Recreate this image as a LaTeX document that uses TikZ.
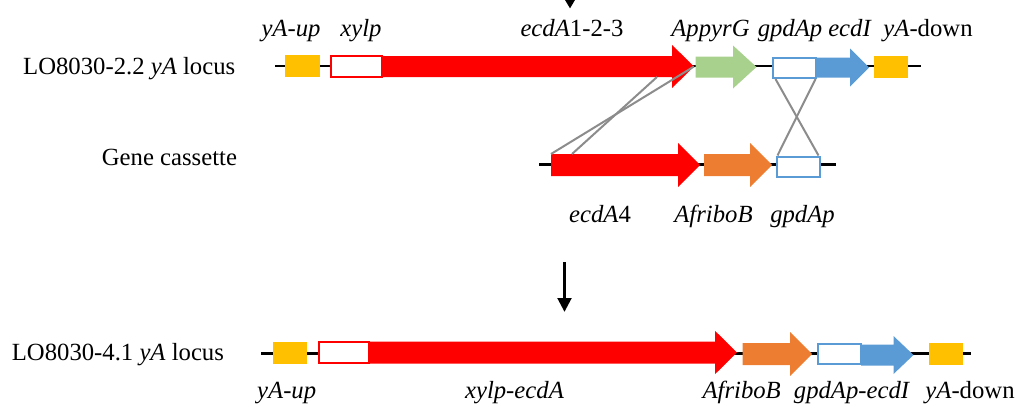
\documentclass[tikz,border=0pt]{standalone}
\usepackage{fontspec}
\setmainfont{Liberation Serif}
\usetikzlibrary{arrows.meta,calc}
\definecolor{gred}{HTML}{FF0000}
\definecolor{gyel}{HTML}{FFC000}
\definecolor{ggreen}{HTML}{A9D18E}
\definecolor{gorange}{HTML}{ED7D31}
\definecolor{gblue}{HTML}{5B9BD5}
\definecolor{ggray}{HTML}{8C8C8C}
% #1 name, #2 x start, #3 x head start, #4 x tip, #5 y centre, #6 body half, #7 head half, #8 colour
\newcommand\genearrow[8]{%
  \fill[#8] (#2,#5-#6) -- (#3,#5-#6) -- (#3,#5-#7) -- (#4,#5) -- (#3,#5+#7) -- (#3,#5+#6) -- (#2,#5+#6) -- cycle;
  \coordinate (#1) at (#4,#5);
}
\begin{document}
\begin{tikzpicture}[x=1pt,y=-1pt,
  every node/.style={font=\fontsize{24.7}{28}\selectfont},
  lab/.style={anchor=base,inner sep=0pt},
  labw/.style={anchor=base west,inner sep=0pt},
  backbone/.style={line width=2.5pt,black},
  ybox/.style={fill=gyel,draw=none,inner sep=0pt,minimum height=22pt,minimum width=34pt},
  rbox/.style={fill=white,draw=gred,line width=2pt,inner sep=0pt,minimum height=21pt,minimum width=50pt},
  bbox/.style={fill=white,draw=gblue,line width=2pt,inner sep=0pt,minimum height=20pt,minimum width=43pt},
  xline/.style={ggray,line width=2pt},
  flow/.style={line width=3.4pt,-{Triangle[width=13.5pt,length=14pt]}}
]
\useasboundingbox (0,0) rectangle (1031,407);

% ---------------- row 1 ----------------
\coordinate (b1s) at (275,66);
\coordinate (b1e) at (921,66);
\draw[backbone] (b1s) -- (b1e);
\node[ybox,minimum width=35pt] (up1) at (302.5,66) {};
\node[rbox,minimum width=51pt] (xyl1) at (356,66) {};
\genearrow{r1tip}{382.5}{672}{694}{66.5}{10.5}{21.6}{gred}
\genearrow{g1tip}{695.5}{733}{756.5}{67}{10.5}{21.5}{ggreen}
\node[bbox] (gp1) at (794,68) {};
\genearrow{bl1tip}{816}{850}{869}{67.5}{10}{19}{gblue}
\node[ybox] (dn1) at (891,67) {};
\coordinate (r1bot) at (657,77);

\node[labw] (l1) at (23,74) {LO8030-2.2 \textit{yA} locus};
\node[lab] at (291,36) {\textit{yA-up}};
\node[lab] at (361,36) {\textit{xylp}};
\node[lab] at (572,36) {\textit{ecdA}1-2-3};
\node[lab] at (710.5,36) {\textit{AppyrG}};
\node[lab] at (790,36) {\textit{gpdAp}};
\node[lab] at (850,36) {\textit{ecdI}};
\node[lab] at (928,36) {\textit{yA}-down};

% ---------------- gene cassette ----------------
\coordinate (b2s) at (539,164.5);
\coordinate (b2e) at (836,164.5);
\draw[backbone] (b2s) -- (b2e);
\genearrow{r2tip}{551}{678}{700}{165}{11}{22.2}{gred}
\genearrow{o2tip}{704}{750}{772}{165}{11}{22.2}{gorange}
\node[bbox] (gp2) at (798,166.5) {};
\coordinate (cA) at (551,154);
\coordinate (cB) at (572,154);

\node[labw] (l2) at (101.7,165) {Gene cassette};
\node[lab] at (600,222) {\textit{ecdA}4};
\node[lab] at (713.5,222) {\textit{AfriboB}};
\node[lab] at (802.5,222) {\textit{gpdAp}};

% crossing lines
\draw[xline] (cA) -- (r1tip);
\draw[xline] (cB) -- (r1bot);
\draw[xline] ($(gp1.south west)+(4,0)$) -- ($(gp2.north east)+(-2,0)$);
\draw[xline] ($(gp1.south east)+(-1,0)$) -- ($(gp2.north west)+(2,0)$);

% ---------------- arrows ----------------
\begin{scope}
  \clip (0,0) rectangle (1031,407);
  \coordinate (a0s) at (570,-20);
  \coordinate (a0e) at (570,8.5);
  \draw[line width=3.4pt,-{Triangle[width=11pt,length=10pt]}] (a0s) -- (a0e);
\end{scope}
\coordinate (a1s) at (564.5,262);
\coordinate (a1e) at (564.5,312);
\draw[flow] (a1s) -- (a1e);

% ---------------- row 3 ----------------
\coordinate (b3s) at (261,353.5);
\coordinate (b3e) at (971,353.5);
\draw[backbone] (b3s) -- (b3e);
\node[ybox] (up3) at (290.3,352.5) {};
\node[rbox] (xyl3) at (344,352.5) {};
\genearrow{r3tip}{369.5}{715}{737}{352.5}{11}{21.7}{gred}
\genearrow{o3tip}{742.5}{790}{812}{354}{11}{22}{gorange}
\node[bbox] (gp3) at (839,354) {};
\genearrow{bl3tip}{861}{893.5}{913.5}{355}{10.5}{19}{gblue}
\node[ybox] (dn3) at (946.3,354) {};

\node[labw] (l3) at (11.7,360) {LO8030-4.1 \textit{yA} locus};
\node[lab] at (286.7,398) {\textit{yA-up}};
\node[lab] at (514.5,398) {\textit{xylp-ecdA}};
\node[lab] at (741.7,398) {\textit{AfriboB}};
\node[lab] at (852,398) {\textit{gpdAp-ecdI}};
\node[lab] at (970,398) {\textit{yA}-down};
\end{tikzpicture}
\end{document}
